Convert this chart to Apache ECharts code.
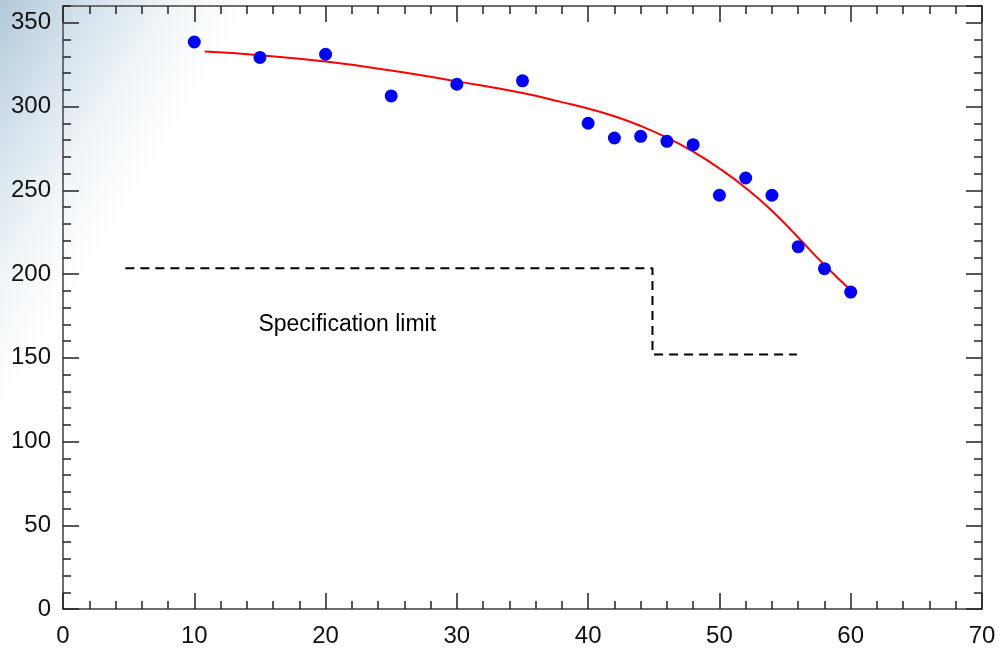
<!DOCTYPE html>
<html>
<head>
<meta charset="utf-8">
<script src="https://cdn.jsdelivr.net/npm/echarts@6/dist/echarts.min.js"></script>
<style>
  html, body { margin: 0; padding: 0; }
  #main { width: 999px; height: 649px; }
</style>
</head>
<body>
<div id="main"></div>
<script>
// measured points
var px = [10, 15, 20, 25, 30, 35, 40, 42, 44, 46, 48, 50, 52, 54, 56, 58, 60];
var py = [338.5, 329.3, 331.2, 306.3, 313.3, 315.3, 290, 281.2, 282.2, 279.2, 277.2, 247, 257.3, 247, 216.3, 203.2, 189.2];

// fitted curve (red)
var fitX = [10.8, 15, 20, 25, 30, 35, 38, 40, 42, 44, 46, 48, 50, 52, 54, 56, 58, 60.24];
var fitY = [332.8, 330.6, 326.8, 321.5, 315, 308, 302.6, 298.8, 294.2, 288.4, 281.4, 273, 263, 251.4, 237.8, 221.8, 205.4, 188.6];

// specification limit (dashed step)
var specX = [4.75, 44.9, 44.9, 55.9];
var specY = [203.5, 203.5, 152, 152];
var specText = 'Specification limit';
var specTextAt = [21.65, 170];

var xTicks = [0, 10, 20, 30, 40, 50, 60, 70];
var yTicks = [0, 50, 100, 150, 200, 250, 300, 350];

var fontFam = '"Liberation Sans", Arial, sans-serif';
var axisCol = '#6e6e6e';
var tickCol = '#222';

function zip(a, b) {
  var out = [];
  for (var i = 0; i < a.length; i++) out.push([a[i], b[i]]);
  return out;
}

function xAx(pos, labels) {
  return {
    type: 'value', position: pos, min: xTicks[0], max: xTicks[xTicks.length - 1], interval: 10,
    axisLine: { show: true, onZero: false, lineStyle: { color: axisCol, width: 2 } },
    axisTick: { show: true, inside: true, length: 16, lineStyle: { color: tickCol, width: 1.5 } },
    minorTick: { show: true, splitNumber: 5, length: 8, lineStyle: { color: tickCol, width: 1.5 } },
    axisLabel: { show: labels, margin: 15, color: '#111', fontSize: 24, fontFamily: fontFam },
    splitLine: { show: false }, minorSplitLine: { show: false }
  };
}

function yAx(pos, step, len, labels) {
  return {
    type: 'value', position: pos, min: 0, max: 360, interval: step,
    axisLine: { show: step === 50, onZero: false, lineStyle: { color: axisCol, width: 2 } },
    axisTick: { show: true, inside: true, length: len, lineStyle: { color: tickCol, width: 1.5 } },
    axisLabel: {
      show: labels, margin: 12, color: '#111', fontSize: 24, fontFamily: fontFam,
      showMaxLabel: false,
      formatter: function (v) { return yTicks.indexOf(v) >= 0 ? String(v) : ''; }
    },
    splitLine: { show: false }
  };
}

var chart = echarts.init(document.getElementById('main'));
chart.setOption({
  animation: false,
  // soft blue corner, fades to white
  backgroundColor: new echarts.graphic.LinearGradient(0, 0, 185, 115, [
    { offset: 0, color: '#b1c9da' },
    { offset: 0.35, color: '#d3e1eb' },
    { offset: 0.7, color: '#f1f6f9' },
    { offset: 1, color: '#ffffff' }
  ], true),
  grid: { left: 63, right: 17, top: 6, bottom: 40 },
  xAxis: [xAx('bottom', true), xAx('top', false)],
  yAxis: [yAx('left', 50, 16, true), yAx('left', 10, 8, false), yAx('right', 50, 16, false), yAx('right', 10, 8, false)],
  series: [
    {
      type: 'line',
      data: zip(specX, specY),
      showSymbol: false,
      lineStyle: { color: '#000', width: 2, type: [9, 6] },
      z: 2
    },
    {
      type: 'line',
      data: zip(fitX, fitY),
      smooth: true,
      showSymbol: false,
      lineStyle: { color: '#ff0000', width: 2 },
      z: 3
    },
    {
      type: 'scatter',
      data: zip(px, py),
      symbol: 'circle',
      symbolSize: 13,
      itemStyle: { color: '#0000ff', opacity: 1 },
      z: 4
    },
    {
      type: 'scatter',
      data: [specTextAt],
      symbolSize: 0,
      silent: true,
      itemStyle: { opacity: 1 },
      label: {
        show: true, position: 'inside', formatter: specText,
        color: '#000', fontSize: 23, fontFamily: fontFam
      }
    }
  ]
});
</script>
</body>
</html>
